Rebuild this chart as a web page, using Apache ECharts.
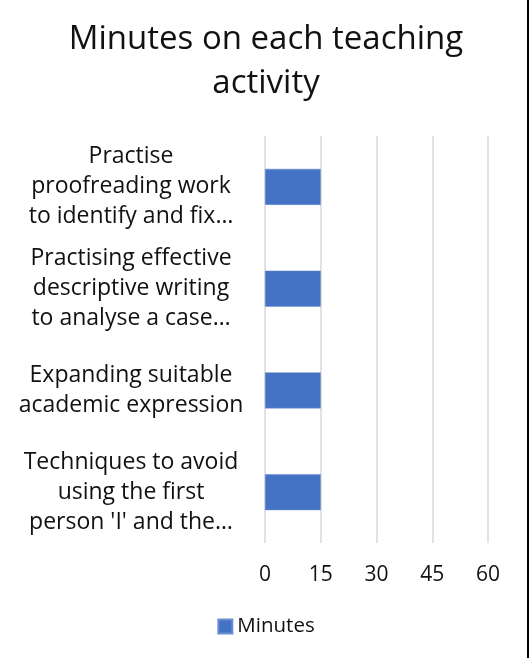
<!DOCTYPE html>
<html>
<head>
<meta charset="utf-8">
<script src="https://cdn.jsdelivr.net/npm/echarts@6/dist/echarts.min.js"></script>
<style>
  html, body { margin: 0; padding: 0; background: #fff; }
  #chart { width: 532px; height: 658px; }
</style>
</head>
<body>
<div id="chart"></div>
<script>
// categories top to bottom, as shown
const activities = [
  'Practise\nproofreading work\nto identify and fix…',
  'Practising effective\ndescriptive writing\nto analyse a case…',
  'Expanding suitable\nacademic expression',
  'Techniques to avoid\nusing the first\nperson \'I\' and the…'
]
const minutes = [15, 15, 15, 15]
const xTicks = [0, 15, 30, 45, 60]

const fontFamily = '"Open Sans", Lato, sans-serif'
const chart = echarts.init(document.getElementById('chart'))

chart.setOption({
  animation: false,
  textStyle: {fontFamily},
  title: {
    text: 'Minutes on each teaching\nactivity',
    left: 'center',
    top: 13,
    textStyle: {fontSize: 33, fontWeight: 'normal', color: '#111', lineHeight: 44, fontFamily}
  },
  legend: {
    bottom: 16,
    left: 'center',
    itemWidth: 14,
    itemHeight: 14,
    icon: 'rect',
    itemGap: 6,
    textStyle: {fontSize: 20.5, color: '#111', fontFamily}
  },
  grid: {top: 136, bottom: 115, left: 265, right: 44},
  xAxis: {
    type: 'value',
    min: 0,
    max: 60,
    interval: 15,
    axisLine: {show: false},
    axisTick: {show: false},
    splitLine: {lineStyle: {color: '#d9d9d9', width: 1.5}},
    axisLabel: {
      fontSize: 21, color: '#111', margin: 22, fontFamily,
      formatter: v => xTicks.includes(v) ? String(v) : ''
    }
  },
  yAxis: {
    type: 'category',
    inverse: true,
    data: activities,
    axisLine: {show: false},
    axisTick: {show: false},
    axisLabel: {
      margin: 14,
      formatter: v => v.split('\n').map(s => '{a|' + s + '}').join('\n'),
      rich: {
        a: {width: 240, align: 'center', fontSize: 23, lineHeight: 30, color: '#111', fontFamily}
      }
    }
  },
  series: [{
    name: 'Minutes',
    type: 'bar',
    data: minutes,
    barWidth: 36,
    itemStyle: {color: '#4472c4', borderColor: '#6a8fd4', borderWidth: 0.5}
  }],
  graphic: [{
    type: 'rect',
    shape: {x: 527, y: 0, width: 2, height: 658},
    style: {fill: '#000'}
  }]
})
</script>
</body>
</html>
